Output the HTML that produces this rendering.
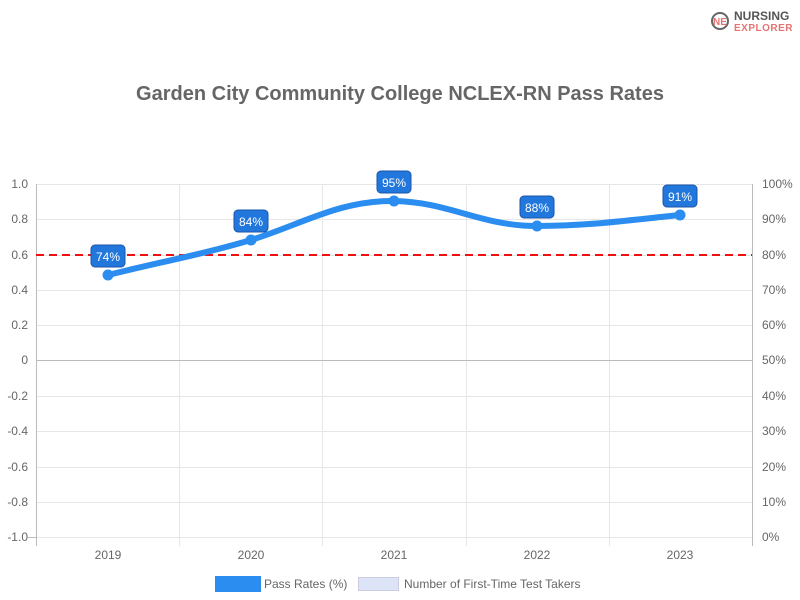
<!DOCTYPE html><html><head><style>body{margin:0;background:#fff}svg{display:block;font-family:"Liberation Sans",sans-serif}</style></head><body>
<svg width="800" height="600" xmlns="http://www.w3.org/2000/svg">
<rect width="800" height="600" fill="#fff"/>
<circle cx="720" cy="21" r="8" fill="none" stroke="#666" stroke-width="2"/>
<text x="720" y="25" font-size="10" font-weight="bold" fill="#e57373" text-anchor="middle">NE</text>
<text x="734" y="20" font-size="12" font-weight="bold" fill="#555">NURSING</text>
<text x="734" y="31" font-size="10" font-weight="bold" fill="#e57373" letter-spacing="0.5">EXPLORER</text>
<text x="400" y="100" font-size="20" font-weight="bold" fill="#666" text-anchor="middle">Garden City Community College NCLEX-RN Pass Rates</text>
<g stroke="#e6e6e6" stroke-width="1">
<line x1="36" y1="184.5" x2="752" y2="184.5"/><line x1="36" y1="219.5" x2="752" y2="219.5"/><line x1="36" y1="255.5" x2="752" y2="255.5"/><line x1="36" y1="290.5" x2="752" y2="290.5"/><line x1="36" y1="325.5" x2="752" y2="325.5"/>
<line x1="36" y1="396.5" x2="752" y2="396.5"/><line x1="36" y1="431.5" x2="752" y2="431.5"/><line x1="36" y1="467.5" x2="752" y2="467.5"/><line x1="36" y1="502.5" x2="752" y2="502.5"/><line x1="36" y1="537.5" x2="752" y2="537.5"/>
<line x1="179.5" y1="184" x2="179.5" y2="546"/><line x1="322.5" y1="184" x2="322.5" y2="546"/><line x1="466.5" y1="184" x2="466.5" y2="546"/><line x1="609.5" y1="184" x2="609.5" y2="546"/>
</g>
<line x1="36" y1="360.5" x2="752" y2="360.5" stroke="#bbb"/>
<line x1="36.5" y1="184" x2="36.5" y2="546" stroke="#bbb"/><line x1="752.5" y1="184" x2="752.5" y2="546" stroke="#bbb"/>
<line x1="28" y1="537.5" x2="36" y2="537.5" stroke="#bbb"/>
<g font-size="12" fill="#666" text-anchor="end">
<text x="28" y="188">1.0</text><text x="28" y="223">0.8</text><text x="28" y="259">0.6</text><text x="28" y="294">0.4</text><text x="28" y="329">0.2</text><text x="28" y="364">0</text><text x="28" y="400">-0.2</text><text x="28" y="435">-0.4</text><text x="28" y="471">-0.6</text><text x="28" y="506">-0.8</text><text x="28" y="541">-1.0</text>
</g>
<g font-size="12" fill="#666" text-anchor="start">
<text x="762" y="188">100%</text><text x="762" y="223">90%</text><text x="762" y="259">80%</text><text x="762" y="294">70%</text><text x="762" y="329">60%</text><text x="762" y="364">50%</text><text x="762" y="400">40%</text><text x="762" y="435">30%</text><text x="762" y="471">20%</text><text x="762" y="506">10%</text><text x="762" y="541">0%</text>
</g>
<g font-size="12" fill="#666" text-anchor="middle">
<text x="108" y="559">2019</text><text x="251" y="559">2020</text><text x="394" y="559">2021</text><text x="537" y="559">2022</text><text x="680" y="559">2023</text>
</g>
<line x1="36" y1="255" x2="752" y2="255" stroke="#ee1111" stroke-width="2" stroke-dasharray="8,5"/>
<path d="M108,275 C160,262 200,255 251,240 C300,225 340,200 394,201 C450,202 480,226 537,226 C590,226 630,220 680,215" fill="none" stroke="#2b8df0" stroke-width="6" stroke-linecap="round"/>
<g fill="#2b8df0"><circle cx="108" cy="275" r="5.5"/><circle cx="251" cy="240" r="5.5"/><circle cx="394" cy="201" r="5.5"/><circle cx="537" cy="226" r="5.5"/><circle cx="680" cy="215" r="5.5"/></g>
<g fill="#2277dd" stroke="#1a55a8" stroke-width="1">
<rect x="91" y="245" width="34" height="22" rx="4"/><rect x="234" y="210" width="34" height="22" rx="4"/><rect x="377" y="171" width="34" height="22" rx="4"/><rect x="520" y="196" width="34" height="22" rx="4"/><rect x="663" y="185" width="34" height="22" rx="4"/>
</g>
<g font-size="12" fill="#fff" text-anchor="middle">
<text x="108" y="261">74%</text><text x="251" y="226">84%</text><text x="394" y="187">95%</text><text x="537" y="212">88%</text><text x="680" y="201">91%</text>
</g>
<rect x="215" y="576" width="46" height="16" fill="#2b8df0"/>
<text x="264" y="588" font-size="12" fill="#666">Pass Rates (%)</text>
<rect x="358.5" y="577.5" width="40" height="13" fill="#dde4f8" stroke="#ccd"/>
<text x="404" y="588" font-size="12" fill="#666">Number of First-Time Test Takers</text>
</svg></body></html>
